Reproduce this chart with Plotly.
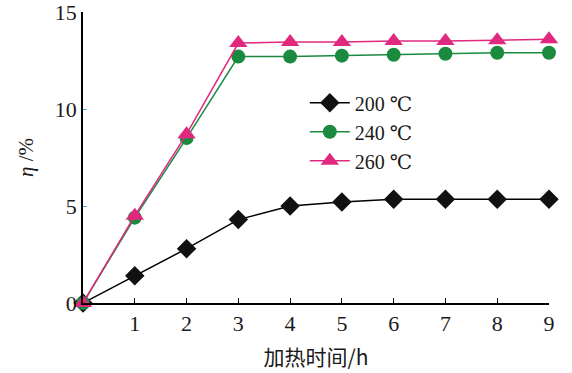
import plotly.graph_objects as go

hours = [0, 1, 2, 3, 4, 5, 6, 7, 8, 9]
eta_200 = [0, 1.4, 2.8, 4.3, 5.0, 5.2, 5.35, 5.35, 5.35, 5.35]
eta_240 = [0, 4.4, 8.5, 12.7, 12.7, 12.75, 12.8, 12.85, 12.9, 12.9]
eta_260 = [0, 4.5, 8.7, 13.4, 13.45, 13.45, 13.5, 13.5, 13.55, 13.6]
names = ["200 ℃", "240 ℃", "260 ℃"]
x_ticks = [1, 2, 3, 4, 5, 6, 7, 8, 9]
y_ticks = [0, 5, 10, 15]

serif = "Liberation Serif, DejaVu Serif, Times New Roman, serif"
fig = go.Figure()
fig.add_trace(go.Scatter(x=hours, y=eta_200, name=names[0], mode="lines+markers",
                         line=dict(color="black", width=1.5),
                         marker=dict(symbol="diamond", size=15, color="#111111"),
                         cliponaxis=False))
fig.add_trace(go.Scatter(x=hours, y=eta_240, name=names[1], mode="lines+markers",
                         line=dict(color="#1a8a3e", width=1.5),
                         marker=dict(symbol="circle", size=14, color="#1a8a3e"),
                         cliponaxis=False))
fig.add_trace(go.Scatter(x=hours, y=eta_260, name=names[2], mode="lines+markers",
                         line=dict(color="#e0287f", width=1.5),
                         marker=dict(symbol="triangle-up", size=16, color="#e0287f"),
                         cliponaxis=False))

fig.update_layout(
    width=572, height=373,
    margin=dict(l=83, r=23, t=12, b=70),
    paper_bgcolor="white", plot_bgcolor="white",
    font=dict(family=serif, size=22, color="#1a1a1a"),
    showlegend=True,
    legend=dict(x=0.476, y=0.755, xanchor="left", yanchor="top",
                bgcolor="rgba(0,0,0,0)", font=dict(size=20, family=serif),
                itemwidth=40, tracegroupgap=0),
    xaxis=dict(range=[0, 9], tickvals=x_ticks, ticktext=[str(v) for v in x_ticks],
               showgrid=False, zeroline=False, showline=True, linecolor="black",
               linewidth=1.5, ticks="inside", ticklen=5, tickcolor="black",
               automargin=False, ticklabeloverflow="allow",
               tickfont=dict(size=22, family=serif),
               title=dict(text="加热时间/h", font=dict(size=21, family="Noto Sans CJK SC, serif"))),
    yaxis=dict(range=[0, 15], tickvals=y_ticks, ticktext=[str(v) for v in y_ticks],
               showgrid=False, zeroline=False, showline=True, linecolor="black",
               linewidth=1.5, ticks="inside", ticklen=4, tickcolor="#3ab0d8",
               automargin=False, ticklabeloverflow="allow",
               tickfont=dict(size=22, family=serif),
               title=dict(text="<i>η</i> /%", font=dict(size=21, family=serif))),
)
fig.write_html("out.html", config={"displayModeBar": False},
               post_script="document.body.style.margin='0';")
